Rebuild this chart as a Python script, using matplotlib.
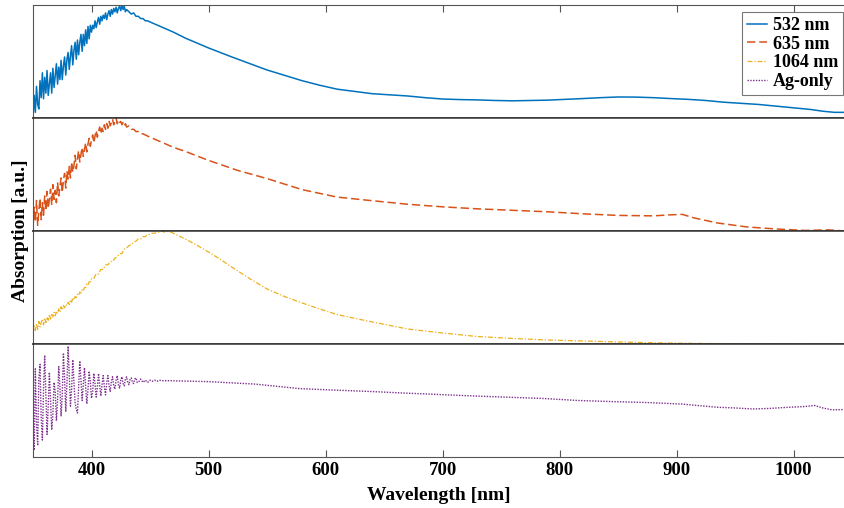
import numpy as np
import matplotlib.pyplot as plt

plt.rcParams['font.family'] = ['Liberation Serif', 'DejaVu Serif']

# ---- data (normalised absorption) ----
# 532 nm sample: 1 nm steps through the noisy rise, coarser after
wl_532 = list(range(350, 431)) + [432, 434, 436, 438, 440, 442, 444, 446, 448, 450, 460, 470,
                                  480, 490, 500, 520, 550, 580, 595, 610, 625, 640, 655, 670,
                                  685, 700, 715, 730, 745, 760, 775, 790, 805, 820, 835, 850,
                                  865, 880, 895, 910, 925, 940, 955, 970, 985, 1000, 1015,
                                  1025, 1035, 1044]
abs_532 = [0.00, 0.20, 0.05, 0.28, 0.12, 0.08, 0.33, 0.18, 0.40, 0.17,
           0.36, 0.22, 0.42, 0.20, 0.30, 0.40, 0.22, 0.44, 0.27, 0.38,
           0.48, 0.30, 0.45, 0.34, 0.51, 0.34, 0.46, 0.54, 0.38, 0.52,
           0.58, 0.43, 0.55, 0.64, 0.47, 0.60, 0.67, 0.52, 0.69, 0.56,
           0.67, 0.74, 0.59, 0.74, 0.64, 0.78, 0.66, 0.81, 0.70, 0.82,
           0.76, 0.82, 0.79, 0.86, 0.80, 0.85, 0.89, 0.83, 0.90, 0.86,
           0.91, 0.88, 0.93, 0.87, 0.92, 0.95, 0.90, 0.96, 0.92, 0.97,
           0.94, 0.98, 0.93, 0.97, 0.99, 0.95, 1.00, 0.96, 0.99, 0.94,
           0.96, 0.94, 0.92, 0.93, 0.90, 0.90, 0.88, 0.88, 0.86, 0.86,
           0.85, 0.805, 0.76, 0.708, 0.664, 0.62, 0.54, 0.425, 0.33, 0.29,
           0.255, 0.235, 0.215, 0.205, 0.195, 0.18, 0.168, 0.163, 0.16, 0.155,
           0.152, 0.155, 0.158, 0.165, 0.172, 0.18, 0.186, 0.185, 0.18, 0.172,
           0.165, 0.155, 0.14, 0.13, 0.12, 0.105, 0.09, 0.075, 0.06, 0.05, 0.05]

# 635 nm sample
wl_635 = list(range(350, 431)) + [432, 434, 436, 438, 440, 442, 444, 446, 448, 450, 460, 470,
                                  480, 500, 525, 550, 580, 610, 640, 670, 700, 730, 760, 790,
                                  820, 850, 880, 895, 905, 915, 935, 960, 985, 1010, 1030, 1044]
abs_635 = [0.03, 0.21, 0.08, 0.27, 0.05, 0.18, 0.29, 0.10, 0.25, 0.14,
           0.31, 0.18, 0.35, 0.20, 0.28, 0.37, 0.23, 0.41, 0.28, 0.36,
           0.25, 0.43, 0.31, 0.39, 0.47, 0.34, 0.45, 0.51, 0.38, 0.53,
           0.46, 0.57, 0.47, 0.61, 0.52, 0.58, 0.67, 0.55, 0.64, 0.71,
           0.61, 0.68, 0.74, 0.66, 0.72, 0.78, 0.70, 0.77, 0.82, 0.75,
           0.80, 0.85, 0.78, 0.84, 0.89, 0.83, 0.88, 0.92, 0.86, 0.91,
           0.88, 0.94, 0.90, 0.95, 0.91, 0.97, 0.93, 0.96, 0.99, 0.94,
           0.98, 1.00, 0.95, 0.98, 0.96, 0.97, 0.94, 0.96, 0.93, 0.95,
           0.92, 0.93, 0.90, 0.90, 0.88, 0.88, 0.86, 0.86, 0.85, 0.84,
           0.83, 0.786, 0.74, 0.705, 0.625, 0.536, 0.464, 0.366, 0.30, 0.268,
           0.237, 0.214, 0.196, 0.183, 0.17, 0.152, 0.138, 0.134, 0.143, 0.147,
           0.116, 0.071, 0.036, 0.018, 0.005, 0.01, 0.0]

# 1064 nm sample
wl_1064 = list(range(350, 401)) + [402, 404, 406, 408, 410, 412, 414, 416, 418, 420, 422, 424,
                                   426, 428, 430, 432, 434, 436, 438, 440, 442, 444, 446, 448,
                                   450, 452, 454, 456, 458, 460, 462, 464, 466, 468, 470, 480,
                                   490, 500, 510, 520, 535, 550, 565, 580, 595, 610, 640, 670,
                                   700, 730, 760, 790, 820, 850, 880, 910, 940, 970, 1000, 1044]
abs_1064 = [0.10, 0.16, 0.12, 0.18, 0.13, 0.20, 0.15, 0.19, 0.22, 0.17,
            0.23, 0.19, 0.24, 0.21, 0.26, 0.22, 0.27, 0.24, 0.28, 0.25,
            0.29, 0.27, 0.31, 0.28, 0.33, 0.30, 0.34, 0.32, 0.35, 0.34,
            0.37, 0.35, 0.39, 0.37, 0.41, 0.39, 0.42, 0.41, 0.44, 0.43,
            0.46, 0.45, 0.48, 0.47, 0.50, 0.50, 0.53, 0.52, 0.55, 0.55,
            0.58, 0.58, 0.62, 0.62, 0.66, 0.66, 0.70, 0.70, 0.73, 0.73,
            0.76, 0.77, 0.80, 0.80, 0.84, 0.85, 0.87, 0.88, 0.90, 0.91,
            0.93, 0.93, 0.95, 0.95, 0.97, 0.97, 0.98, 0.98, 0.99, 0.99,
            1.00, 0.99, 1.00, 0.99, 0.99, 0.98, 0.93, 0.875, 0.814, 0.75,
            0.68, 0.58, 0.487, 0.42, 0.363, 0.31, 0.26, 0.195, 0.133, 0.097,
            0.066, 0.049, 0.035, 0.027, 0.018, 0.011, 0.006, 0.003, 0.001, 0.0, 0.0]

# Ag-only reference
wl_ag = list(range(350, 441)) + [442, 444, 446, 448, 450, 452, 454, 456, 458, 460, 467, 500,
                                 540, 578, 608, 638, 667, 697, 727, 756, 786, 816, 846, 875,
                                 905, 935, 950, 965, 980, 994, 1010, 1018, 1025, 1033, 1044]
abs_ag = [0.40, 0.06, 0.78, 0.30, 0.10, 0.70, 0.82, 0.35, 0.15, 0.60,
          0.90, 0.55, 0.20, 0.45, 0.75, 0.50, 0.24, 0.38, 0.66, 0.58,
          0.32, 0.50, 0.80, 0.62, 0.36, 0.55, 0.92, 0.70, 0.40, 0.65,
          0.98, 0.72, 0.45, 0.60, 0.86, 0.66, 0.48, 0.42, 0.39, 0.62,
          0.85, 0.68, 0.50, 0.64, 0.79, 0.62, 0.47, 0.60, 0.76, 0.66,
          0.52, 0.58, 0.74, 0.65, 0.53, 0.62, 0.74, 0.63, 0.54, 0.64,
          0.72, 0.62, 0.55, 0.66, 0.72, 0.63, 0.58, 0.67, 0.71, 0.63,
          0.60, 0.68, 0.72, 0.64, 0.61, 0.68, 0.71, 0.65, 0.63, 0.69,
          0.71, 0.66, 0.64, 0.69, 0.70, 0.66, 0.65, 0.69, 0.70, 0.66,
          0.66, 0.69, 0.66, 0.68, 0.66, 0.68, 0.67, 0.68, 0.67, 0.68,
          0.675, 0.675, 0.667, 0.645, 0.605, 0.592, 0.58, 0.566, 0.553, 0.54,
          0.529, 0.518, 0.50, 0.49, 0.482, 0.468, 0.44, 0.434, 0.425, 0.43,
          0.439, 0.447, 0.456, 0.434, 0.417, 0.42]

labels = ['532 nm', '635 nm', '1064 nm', 'Ag-only']
colors = ['#0072BD', '#D95319', '#EDB120', '#7E2F8E']
xticks = [400, 500, 600, 700, 800, 900, 1000]

data = [(wl_532, abs_532), (wl_635, abs_635), (wl_1064, abs_1064), (wl_ag, abs_ag)]
styles = [dict(linestyle='-', linewidth=1.1),
          dict(linestyle=(0, (5.5, 2.5)), linewidth=1.1),
          dict(linestyle=(0, (4, 1.5, 1, 1.5)), linewidth=0.9),
          dict(linestyle=(0, (1, 1)), linewidth=1.0)]

fig = plt.figure(figsize=(8.45, 5.08), dpi=100)
left, right = 33 / 845, 1.0
top, bottom = 1 - 5 / 508, 1 - 457 / 508
h = (top - bottom) / 4

handles = []
axes = []
for i, ((wl, a), lab, col, st) in enumerate(zip(data, labels, colors, styles)):
    ax = fig.add_axes([left, top - (i + 1) * h, right - left, h])
    ln, = ax.plot(wl, a, color=col, label=lab, **st)
    handles.append(ln)
    ax.set_xlim(350, 1044)
    ax.set_ylim(0, 1)
    ax.set_yticks([])
    ax.set_xticks(xticks)
    ax.tick_params(axis='x', direction='in', length=5, width=0.8, color='#555555',
                   top=(i == 0), bottom=(i == 3), labelbottom=(i == 3))
    for s in ['left', 'right']:
        ax.spines[s].set_color('#555555')
        ax.spines[s].set_linewidth(0.8)
    ax.spines['top'].set_color('#555555' if i == 0 else '#333333')
    ax.spines['top'].set_linewidth(0.8 if i == 0 else 1.1)
    ax.spines['bottom'].set_color('#555555' if i == 3 else '#333333')
    ax.spines['bottom'].set_linewidth(0.8 if i == 3 else 1.1)
    axes.append(ax)

for t in axes[3].get_xticklabels():
    t.set_fontweight('bold')
    t.set_fontsize(13.5)
axes[3].set_xlabel('Wavelength [nm]', fontsize=14, fontweight='bold', labelpad=6)

fig.text(0.024, (top + bottom) / 2, 'Absorption [a.u.]', rotation=90, fontsize=14,
         fontweight='bold', ha='center', va='center')

leg = axes[0].legend(handles=handles, loc='upper right', bbox_to_anchor=(0.9975, 0.935),
                     prop={'weight': 'bold', 'size': 13}, frameon=True, fancybox=False,
                     edgecolor='#555555', handlelength=1.1, borderpad=0.25, labelspacing=0.1,
                     handletextpad=0.35, borderaxespad=0.0)
leg.get_frame().set_linewidth(0.8)

plt.savefig('out.png', dpi=100)
